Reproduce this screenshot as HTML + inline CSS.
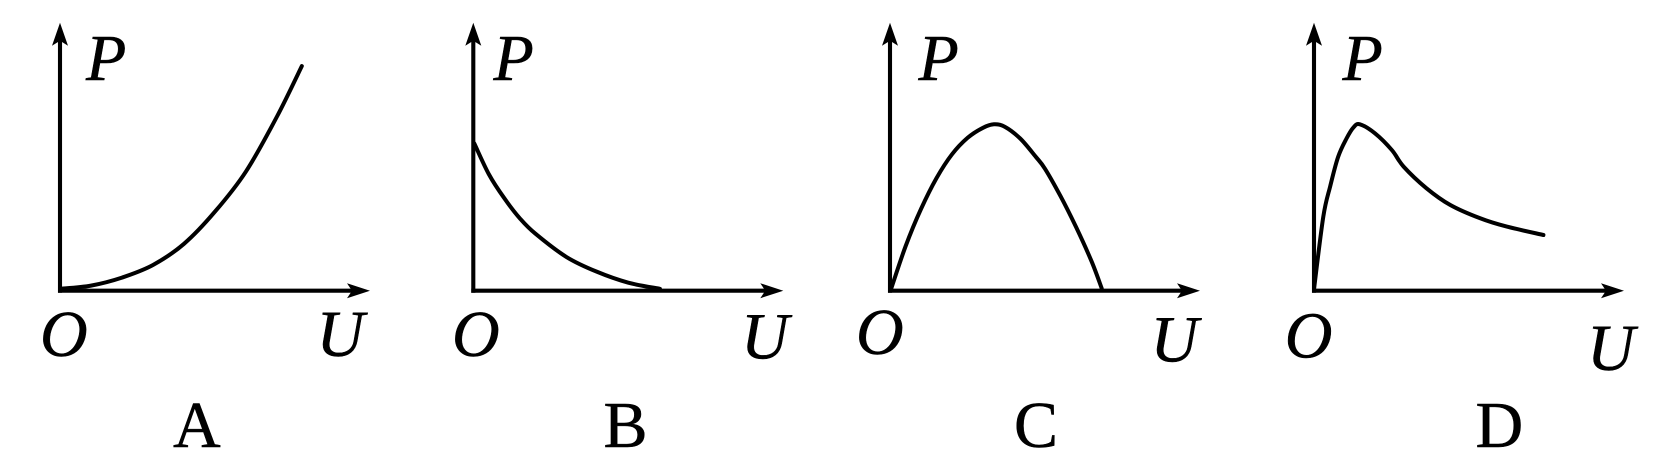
<!DOCTYPE html>
<html lang="en">
<head>
<meta charset="utf-8">
<title>P-U graph options</title>
<style>
  html, body { margin: 0; padding: 0; background: #fff; }
  svg { display: block; }
  .ax { stroke: #000; stroke-width: 4.1; fill: none; }
  .head { fill: #000; stroke: none; }
  .curve { stroke: #000; stroke-width: 4; fill: none; stroke-linecap: round; stroke-linejoin: round; }
  .var { font-family: "Liberation Serif", serif; font-style: italic; font-size: 66px; fill: #000; stroke: #000; stroke-width: 0.5px; }
  .opt { font-family: "Liberation Serif", serif; font-size: 66px; fill: #000; stroke: #000; stroke-width: 0.5px; }
</style>
</head>
<body>
<svg id="chart" xmlns="http://www.w3.org/2000/svg" width="1654" height="468" viewBox="0 0 1654 468">
  <rect x="0" y="0" width="1654" height="468" fill="#fff"/>

  <g id="panel-a">
    <text class="var" x="86" y="80">P</text>
    <text class="var" x="40" y="356">O</text>
    <text class="var" x="316.5" y="356">U</text>
    <text class="opt" x="173" y="447">A</text>
  </g>
  <g id="panel-b">
    <text class="var" x="493.5" y="80">P</text>
    <text class="var" x="452" y="356">O</text>
    <text class="var" x="741" y="358.5">U</text>
    <text class="opt" x="603.5" y="447">B</text>
  </g>
  <g id="panel-c">
    <text class="var" x="918.5" y="80">P</text>
    <text class="var" x="856" y="354">O</text>
    <text class="var" x="1150.5" y="361.5">U</text>
    <text class="opt" x="1014" y="447">C</text>
  </g>
  <g id="panel-d">
    <text class="var" x="1342.5" y="80">P</text>
    <text class="var" x="1284.8" y="357.5">O</text>
    <text class="var" x="1587" y="370">U</text>
    <text class="opt" x="1475.5" y="447">D</text>
  </g>
</svg>
<script>
// Values: U and P on a 0-100 scale of each axis length.
const uA = [0, 10, 20, 30, 40, 50, 60, 70, 78];
const pA = [0.7, 1.9, 4.9, 9.6, 17.5, 29.5, 44.5, 65, 83.8];

const uB = [0.3, 5, 10, 15, 20, 30, 40, 50, 60.2];
const pB = [55, 43.5, 34.5, 27, 21.3, 12.6, 7, 3, 0.7];

const uC = [0.3, 5, 10, 15, 20, 25, 30, 33.5, 37, 42, 47, 50, 55, 60, 65, 68.3];
const pC = [0.5, 16.5, 30.5, 42, 50.9, 57, 60.8, 62.1, 61.2, 56.8, 50, 45.5, 35.3, 23.8, 11, 0.9];

const uD = [0, 3, 5.2, 7.8, 10.5, 12.7, 14.8, 19.7, 25.1, 28.9, 36.3, 43.9, 53.6, 62.2, 74];
const pD = [0.5, 27.6, 38.8, 50, 56.8, 60.9, 62.1, 58.7, 52.5, 46.3, 38.2, 32, 27, 23.9, 20.8];

const NS = 'http://www.w3.org/2000/svg';
const AXIS_W = 310;
const AXIS_H = 268;
const BASE_Y = 290.7;

function xScale(originX, u) { return originX + u / 100 * AXIS_W; }
function yScale(p) { return BASE_Y - p / 100 * AXIS_H; }

function smoothPath(px, py) {
  let d = 'M' + px[0].toFixed(1) + ' ' + py[0].toFixed(1);
  for (let i = 0; i < px.length - 1; i++) {
    const i0 = Math.max(i - 1, 0);
    const i3 = Math.min(i + 2, px.length - 1);
    const c1x = px[i] + (px[i + 1] - px[i0]) / 6;
    const c1y = py[i] + (py[i + 1] - py[i0]) / 6;
    const c2x = px[i + 1] - (px[i3] - px[i]) / 6;
    const c2y = py[i + 1] - (py[i3] - py[i]) / 6;
    d += 'C' + c1x.toFixed(1) + ' ' + c1y.toFixed(1) + ' ' + c2x.toFixed(1) + ' ' + c2y.toFixed(1) + ' ' + px[i + 1].toFixed(1) + ' ' + py[i + 1].toFixed(1);
  }
  return d;
}

function drawPanel(key, originX, us, ps) {
  const g = document.getElementById('panel-' + key);
  const tipX = xScale(originX, 100);
  const tipY = yScale(100);

  const yAxis = document.createElementNS(NS, 'line');
  yAxis.setAttribute('class', 'ax');
  
  
  yAxis.setAttribute('x1', originX);
  yAxis.setAttribute('y1', BASE_Y + 2);
  yAxis.setAttribute('x2', originX);
  yAxis.setAttribute('y2', tipY + 14);
  g.appendChild(yAxis);

  const xAxis = document.createElementNS(NS, 'line');
  xAxis.setAttribute('class', 'ax');
  
  
  xAxis.setAttribute('x1', originX - 2);
  xAxis.setAttribute('y1', BASE_Y);
  xAxis.setAttribute('x2', tipX - 14);
  xAxis.setAttribute('y2', BASE_Y);
  g.appendChild(xAxis);

  const yHead = document.createElementNS(NS, 'path');
  yHead.setAttribute('class', 'head');
  
  
  yHead.setAttribute('d', 'M' + originX + ' ' + tipY + 'L' + (originX + 8) + ' ' + (tipY + 23) + 'L' + originX + ' ' + (tipY + 18) + 'L' + (originX - 8) + ' ' + (tipY + 23) + 'Z');
  g.appendChild(yHead);

  const xHead = document.createElementNS(NS, 'path');
  xHead.setAttribute('class', 'head');
  
  
  xHead.setAttribute('d', 'M' + tipX + ' ' + BASE_Y + 'L' + (tipX - 23) + ' ' + (BASE_Y + 7.5) + 'L' + (tipX - 18) + ' ' + BASE_Y + 'L' + (tipX - 23) + ' ' + (BASE_Y - 7.5) + 'Z');
  g.appendChild(xHead);

  const px = us.map(function (u) { return xScale(originX, u); });
  const py = ps.map(function (p) { return yScale(p); });
  const curve = document.createElementNS(NS, 'path');
  curve.setAttribute('class', 'curve');
  
  
  curve.setAttribute('d', smoothPath(px, py));
  g.appendChild(curve);
}

drawPanel('a', 60, uA, pA);
drawPanel('b', 473.3, uB, pB);
drawPanel('c', 890, uC, pC);
drawPanel('d', 1314, uD, pD);
</script>
</body>
</html>
